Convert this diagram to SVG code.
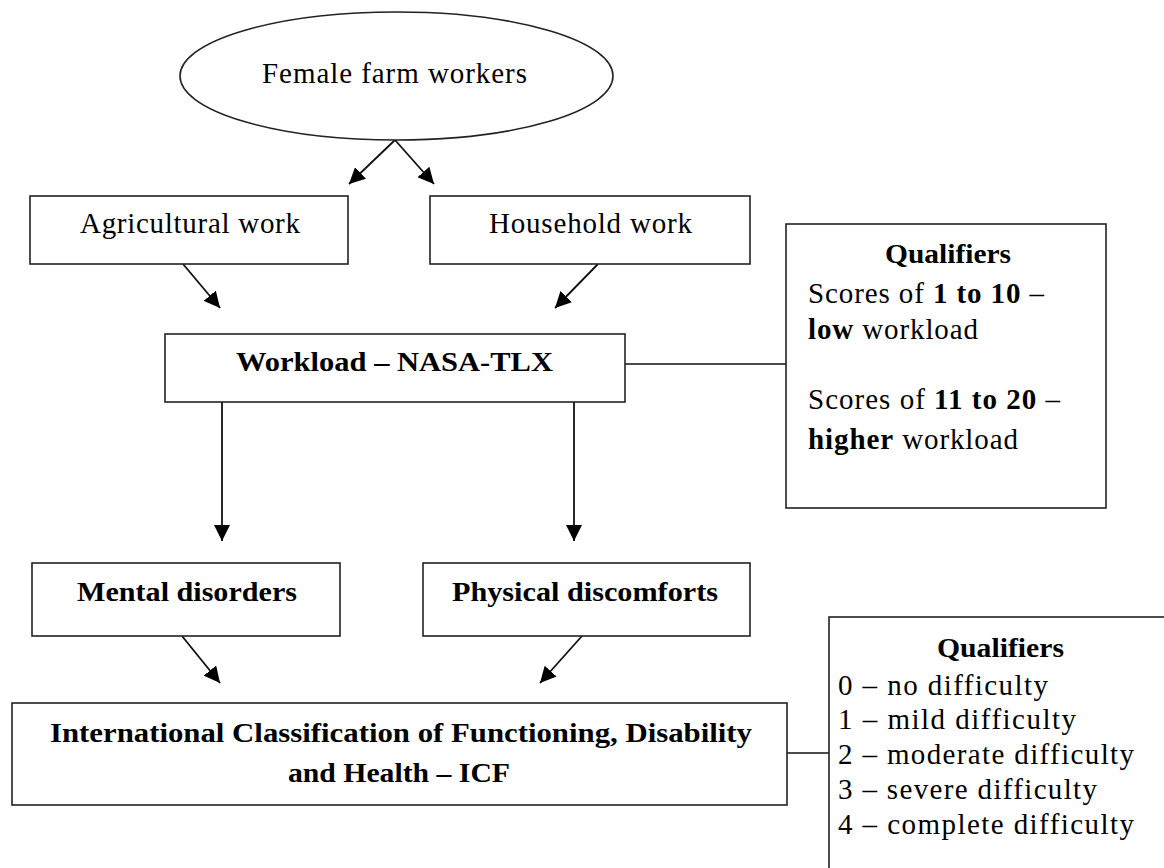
<svg xmlns="http://www.w3.org/2000/svg" width="1164" height="868" viewBox="0 0 1164 868">
<style>
.box{fill:#fff;stroke:#222;stroke-width:1.6}
.t{font-family:"Liberation Serif","Times New Roman",serif;font-size:29px;fill:#000}
.b{font-weight:bold}
.bb{font-size:27px}
.ln{stroke:#111;stroke-width:1.6;fill:none}
.ar{stroke:#111;stroke-width:1.8;fill:none;marker-end:url(#ah)}
</style>
<defs>
<marker id="ah" viewBox="0 0 10 10" refX="10" refY="5" markerWidth="16" markerHeight="16" markerUnits="userSpaceOnUse" orient="auto">
<path d="M0,0 L10,5 L0,10 z" fill="#000"/>
</marker>
</defs>
<rect width="1164" height="868" fill="#fff"/>
<g id="connectors">
<line class="ar" x1="395" y1="140" x2="349" y2="184"/>
<line class="ar" x1="395" y1="140" x2="434" y2="184"/>
<line class="ar" x1="183" y1="264" x2="220" y2="308"/>
<line class="ar" x1="598" y1="264" x2="555" y2="308"/>
<line class="ln" x1="625" y1="364" x2="786" y2="364"/>
<line class="ar" x1="222" y1="402" x2="222" y2="541"/>
<line class="ar" x1="574" y1="402" x2="574" y2="541"/>
<line class="ar" x1="182" y1="636" x2="220" y2="683"/>
<line class="ar" x1="582" y1="636" x2="540" y2="683"/>
<line class="ln" x1="787" y1="753" x2="829" y2="753"/>
</g>
<g id="female">
<ellipse class="box" cx="396.5" cy="76" rx="216.5" ry="64"/>
<text class="t" x="262" y="83" textLength="265" lengthAdjust="spacing">Female farm workers</text>
</g>
<g id="agri">
<rect class="box" x="30" y="196" width="318" height="68"/>
<text class="t" x="80" y="233" textLength="220" lengthAdjust="spacing">Agricultural work</text>
</g>
<g id="house">
<rect class="box" x="430" y="196" width="320" height="68"/>
<text class="t" x="489" y="233" textLength="203" lengthAdjust="spacing">Household work</text>
</g>
<g id="workload">
<rect class="box" x="165" y="334" width="460" height="68"/>
<text class="t b bb" x="236" y="371" textLength="317" lengthAdjust="spacingAndGlyphs">Workload  – NASA-TLX</text>
</g>
<g id="qual1">
<rect class="box" x="786" y="224" width="320" height="284"/>
<text class="t b bb" x="885" y="263" textLength="126" lengthAdjust="spacingAndGlyphs">Qualifiers</text>
<text class="t" x="808" y="303" textLength="236" lengthAdjust="spacing">Scores of <tspan class="b">1 to 10</tspan> –</text>
<text class="t" x="808" y="339" textLength="170" lengthAdjust="spacing"><tspan class="b">low</tspan> workload</text>
<text class="t" x="808" y="409" textLength="252" lengthAdjust="spacing">Scores of <tspan class="b">11 to 20</tspan> –</text>
<text class="t" x="808" y="449" textLength="210" lengthAdjust="spacing"><tspan class="b">higher</tspan> workload</text>
</g>
<g id="mental">
<rect class="box" x="32" y="563" width="308" height="73"/>
<text class="t b bb" x="77" y="601" textLength="220" lengthAdjust="spacingAndGlyphs">Mental disorders</text>
</g>
<g id="physical">
<rect class="box" x="423" y="563" width="327" height="73"/>
<text class="t b bb" x="452" y="601" textLength="266" lengthAdjust="spacingAndGlyphs">Physical discomforts</text>
</g>
<g id="icf">
<rect class="box" x="12" y="703" width="775" height="102"/>
<text class="t b bb" x="50" y="742" textLength="702" lengthAdjust="spacingAndGlyphs">International Classification of Functioning, Disability</text>
<text class="t b bb" x="288" y="782" textLength="222" lengthAdjust="spacingAndGlyphs">and Health – ICF</text>
</g>
<g id="qual2">
<rect class="box" x="829" y="617" width="345" height="270"/>
<text class="t b bb" x="937" y="657" textLength="127" lengthAdjust="spacingAndGlyphs">Qualifiers</text>
<text class="t" x="838" y="695" textLength="210" lengthAdjust="spacing">0 – no difficulty</text>
<text class="t" x="838" y="729" textLength="238" lengthAdjust="spacing">1 – mild difficulty</text>
<text class="t" x="838" y="764" textLength="296" lengthAdjust="spacing">2 – moderate difficulty</text>
<text class="t" x="838" y="799" textLength="259" lengthAdjust="spacing">3 – severe difficulty</text>
<text class="t" x="838" y="834" textLength="296" lengthAdjust="spacing">4 – complete difficulty</text>
</g>
</svg>
